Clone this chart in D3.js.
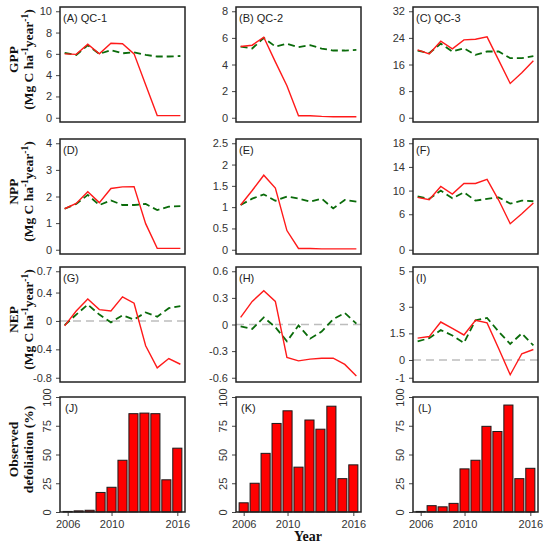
<!DOCTYPE html>
<html>
<head>
<meta charset="utf-8">
<script src="https://cdn.jsdelivr.net/npm/d3@7"></script>
<style>
  body { margin: 0; background: #fff; }
  .tick text { font-family: "Liberation Sans", Arial, sans-serif; font-size: 11px; fill: #333; }
  .tick line { stroke: #444; }
  .ttl { font-family: "Liberation Serif", "Times New Roman", serif; font-weight: bold; font-size: 13.5px; fill: #111; }
  .plab { font-family: "Liberation Sans", Arial, sans-serif; font-size: 11px; fill: #222; }
</style>
</head>
<body>
<div id="chart"></div>
<script>
var years = [2006, 2007, 2008, 2009, 2010, 2011, 2012, 2013, 2014, 2015, 2016];

// red = defoliated run, green dashed = no defoliation
var gppRed1 = [6.0, 5.95, 6.9, 6.0, 7.0, 6.95, 6.0, 3.1, 0.2, 0.2, 0.2];
var gppGreen1 = [6.1, 5.9, 6.8, 6.0, 6.35, 6.05, 6.15, 5.9, 5.75, 5.75, 5.8];
var gppRed2 = [5.35, 5.45, 6.05, 4.2, 2.4, 0.15, 0.15, 0.1, 0.08, 0.08, 0.08];
var gppGreen2 = [5.35, 5.2, 6.0, 5.35, 5.55, 5.3, 5.45, 5.2, 5.05, 5.05, 5.1];
var gppRed3 = [20.4, 19.2, 23.0, 20.7, 23.4, 23.6, 24.3, 17.3, 10.3, 13.5, 17.1];
var gppGreen3 = [20.2, 19.4, 22.3, 19.9, 20.9, 18.9, 19.9, 19.9, 17.9, 17.9, 18.5];

var nppRed1 = [1.54, 1.74, 2.18, 1.77, 2.3, 2.36, 2.37, 0.98, 0.05, 0.05, 0.05];
var nppGreen1 = [1.54, 1.72, 2.06, 1.68, 1.85, 1.68, 1.68, 1.72, 1.49, 1.62, 1.64];
var nppRed2 = [1.05, 1.39, 1.75, 1.45, 0.45, 0.03, 0.03, 0.02, 0.02, 0.02, 0.02];
var nppGreen2 = [1.05, 1.2, 1.3, 1.15, 1.25, 1.2, 1.13, 1.2, 0.97, 1.17, 1.13];
var nppRed3 = [8.85, 8.45, 10.7, 9.4, 11.2, 11.2, 11.9, 8.4, 4.4, 6.1, 7.9];
var nppGreen3 = [9.0, 8.6, 10.0, 8.7, 9.7, 8.3, 8.6, 8.85, 7.8, 8.3, 8.2];

var nepRed1 = [-0.07, 0.14, 0.31, 0.16, 0.14, 0.34, 0.25, -0.35, -0.66, -0.53, -0.61];
var nepGreen1 = [-0.06, 0.09, 0.23, 0.09, -0.02, 0.08, 0.02, 0.12, 0.06, 0.18, 0.21];
var nepRed2 = [0.08, 0.26, 0.38, 0.26, -0.37, -0.41, -0.39, -0.38, -0.38, -0.45, -0.58];
var nepGreen2 = [-0.02, -0.05, 0.08, -0.03, -0.19, -0.01, -0.16, -0.08, 0.06, 0.13, 0.01];
var nepRed3 = [1.23, 1.32, 2.14, 1.78, 1.41, 2.24, 2.09, 0.65, -0.83, 0.35, 0.59];
var nepGreen3 = [1.05, 1.23, 1.69, 1.38, 0.96, 2.24, 2.37, 1.6, 0.9, 1.5, 0.82];

var defol1 = [0.5, 1, 1.5, 17, 21.5, 45, 85.5, 86, 85.5, 28, 55.5];
var defol2 = [8, 25, 51, 77, 88, 39, 80, 72, 92, 29, 41];
var defol3 = [0.5, 5.5, 4.5, 7.5, 37.5, 45, 74.5, 70, 93, 29, 38];

var gppTicks = [[0, 2, 4, 6, 8, 10], [0, 2, 4, 6, 8], [0, 8, 16, 24, 32]];
var nppTicks = [[0, 1, 2, 3, 4], [0, 0.5, 1, 1.5, 2, 2.5], [0, 6, 10, 14, 18]];
var nepTicks = [[-0.8, -0.4, 0, 0.4, 0.7], [-0.6, -0.3, 0, 0.3, 0.6], [-1, 0, 1.5, 3, 5]];
var defolTicks = [0, 25, 50, 75, 100];
var barYearTicks = [2006, 2010, 2016];

var panelLabels = [
  ["(A) QC-1", "(B) QC-2", "(C) QC-3"],
  ["(D)", "(E)", "(F)"],
  ["(G)", "(H)", "(I)"],
  ["(J)", "(K)", "(L)"]
];
var rowTitles = [
  ["GPP", "(Mg C ha", "year", ")"],
  ["NPP", "(Mg C ha", "year", ")"],
  ["NEP", "(Mg C ha", "year", ")"],
  ["Observed", "defoliation (%)"]
];

var W = 550, H = 548;
var colX = [60, 236, 413], pw = 125;
var rowY = [7, 139, 267, 397], ph = 115;

var svg = d3.select("#chart").append("svg")
    .attr("width", W)
    .attr("height", H);

var lineRows = [
  { red: [gppRed1, gppRed2, gppRed3], green: [gppGreen1, gppGreen2, gppGreen3], ticks: gppTicks, zero: false },
  { red: [nppRed1, nppRed2, nppRed3], green: [nppGreen1, nppGreen2, nppGreen3], ticks: nppTicks, zero: false },
  { red: [nepRed1, nepRed2, nepRed3], green: [nepGreen1, nepGreen2, nepGreen3], ticks: nepTicks, zero: true }
];

// R style padding: 4% each side
var pad = function(lo, hi) { var r = hi - lo; return [lo - 0.04 * r, hi + 0.04 * r]; };

lineRows.forEach(function(row, ri) {
  for (var ci = 0; ci < 3; ci++) {
    var g = svg.append("g")
        .attr("transform", "translate(" + colX[ci] + "," + rowY[ri] + ")");
    var tv = row.ticks[ci];
    var x = d3.scaleLinear().domain(pad(2006, 2016)).range([0, pw]);
    var y = d3.scaleLinear().domain(pad(d3.min(tv), d3.max(tv))).range([ph, 0]);

    if (row.zero) {
      g.append("line")
        .attr("x1", 0).attr("x2", pw)
        .attr("y1", y(0)).attr("y2", y(0))
        .attr("stroke", "#bdbdbd")
        .attr("stroke-width", 1.6)
        .attr("stroke-dasharray", "8,5");
    }

    var line = d3.line()
        .x(function(d, i) { return x(years[i]); })
        .y(function(d) { return y(d); });

    g.append("path")
      .attr("d", line(row.green[ci]))
      .attr("fill", "none")
      .attr("stroke", "#0a6b0a")
      .attr("stroke-width", 1.8)
      .attr("stroke-dasharray", "7,4");

    g.append("path")
      .attr("d", line(row.red[ci]))
      .attr("fill", "none")
      .attr("stroke", "#ff1a1a")
      .attr("stroke-width", 1.4);

    var ax = g.append("g")
      .call(d3.axisLeft(y).tickValues(tv).tickSize(4).tickPadding(4)
        .tickFormat(function(d) { return String(d); }));
    ax.select(".domain").remove();

    g.append("rect")
      .attr("width", pw).attr("height", ph)
      .attr("fill", "none")
      .attr("stroke", "#222")
      .attr("stroke-width", 1.5);

    g.append("text")
      .attr("class", "plab")
      .attr("x", 3).attr("y", 15)
      .text(panelLabels[ri][ci]);
  }
});

// bar row
[defol1, defol2, defol3].forEach(function(vals, ci) {
  var g = svg.append("g")
      .attr("transform", "translate(" + colX[ci] + "," + rowY[3] + ")");
  var x = d3.scaleLinear().domain([2005.3, 2016.7]).range([0, pw]);
  var y = d3.scaleLinear().domain([0, 100]).range([ph, 0]);
  var bw = x(2006.83) - x(2006);

  g.selectAll("rect.bar")
    .data(vals)
    .enter().append("rect")
      .attr("class", "bar")
      .attr("x", function(d, i) { return x(years[i]) - bw / 2; })
      .attr("y", function(d) { return y(d); })
      .attr("width", bw)
      .attr("height", function(d) { return ph - y(d); })
      .attr("fill", "#ff0000")
      .attr("stroke", "#1a1a1a")
      .attr("stroke-width", 1);

  var ay = g.append("g")
    .call(d3.axisLeft(y).tickValues(defolTicks).tickSize(4));
  ay.select(".domain").remove();
  ay.selectAll("text")
    .attr("x", 0).attr("dy", 0)
    .attr("transform", "translate(-9,0) rotate(-90)")
    .style("text-anchor", "middle");

  var axb = g.append("g")
    .attr("transform", "translate(0," + ph + ")")
    .call(d3.axisBottom(x).tickValues(barYearTicks).tickSize(4).tickPadding(4)
      .tickFormat(function(d) { return String(d); }));
  axb.select(".domain").remove();

  g.append("rect")
    .attr("width", pw).attr("height", ph)
    .attr("fill", "none")
    .attr("stroke", "#222")
    .attr("stroke-width", 1.5);

  g.append("text")
    .attr("class", "plab")
    .attr("x", 5).attr("y", 15)
    .text(panelLabels[3][ci]);
});

// row titles on the left
rowTitles.forEach(function(t, ri) {
  var cy = rowY[ri] + ph / 2 - 5;
  svg.append("text")
    .attr("class", "ttl")
    .attr("transform", "translate(18," + cy + ") rotate(-90)")
    .style("text-anchor", "middle")
    .text(t[0]);
  var t2 = svg.append("text")
    .attr("class", "ttl")
    .attr("transform", "translate(33," + cy + ") rotate(-90)")
    .style("text-anchor", "middle");
  if (t.length > 2) {
    t2.append("tspan").text(t[1]);
    t2.append("tspan").attr("dy", -5).style("font-size", "9.5px").text("-1");
    t2.append("tspan").attr("dy", 5).text(t[2]);
    t2.append("tspan").attr("dy", -5).style("font-size", "9.5px").text("-1");
    t2.append("tspan").attr("dy", 5).text(t[3]);
  } else {
    t2.text(t[1]);
  }
});

// x axis title
svg.append("text")
  .attr("class", "ttl")
  .attr("x", 308).attr("y", 541)
  .style("text-anchor", "middle")
  .style("font-size", "14px")
  .text("Year");
</script>
</body>
</html>
